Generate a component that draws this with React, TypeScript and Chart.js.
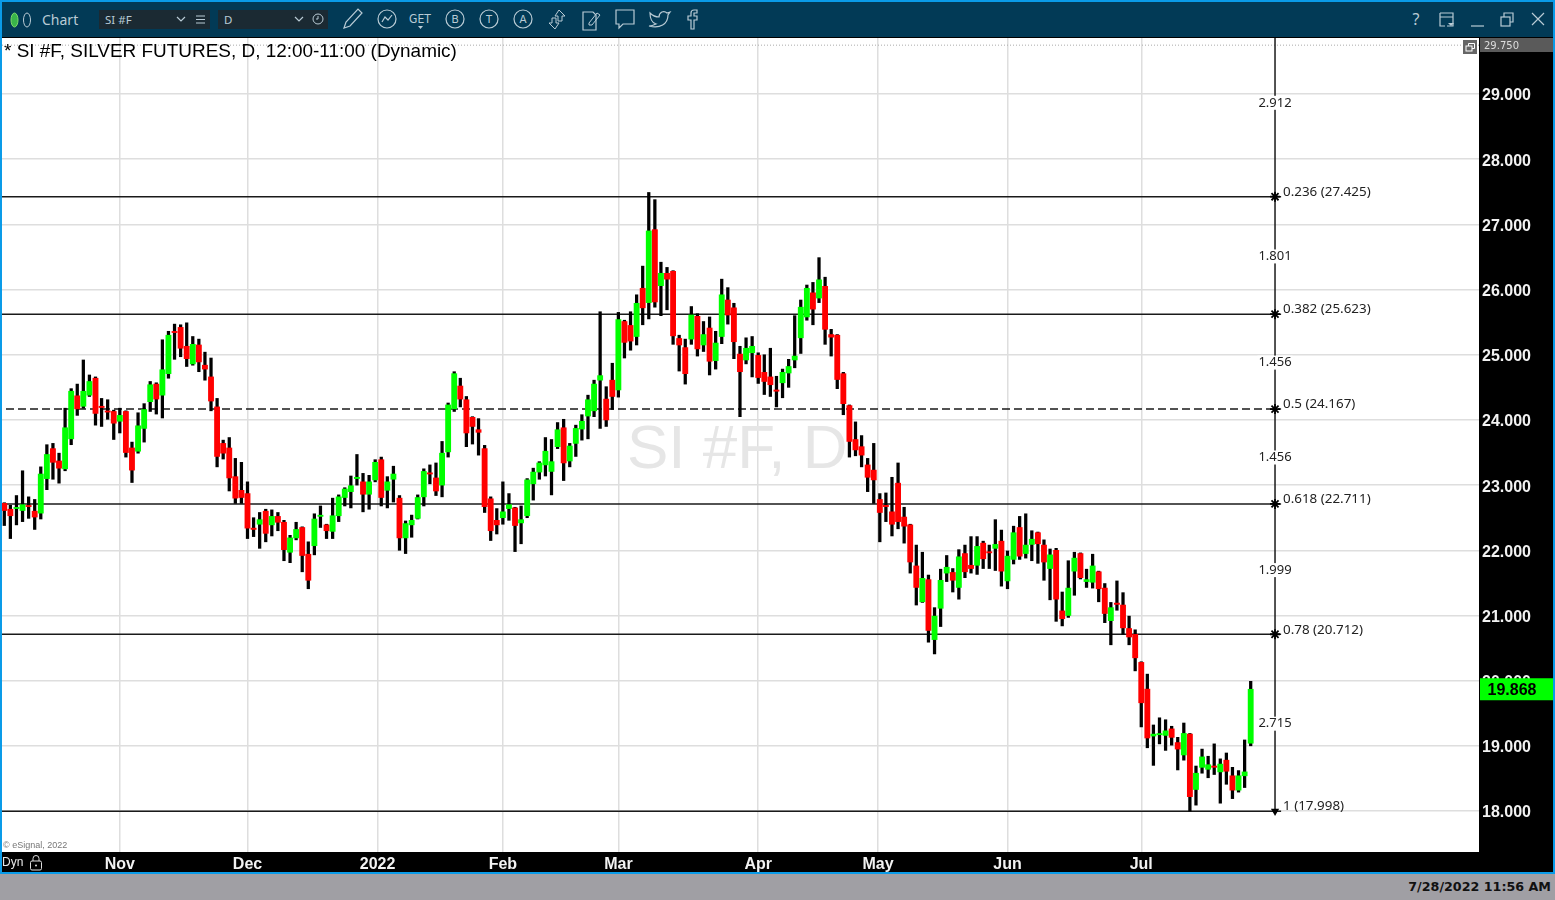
import React, { useEffect, useRef } from "react";
import { Chart, registerables } from "chart.js";

Chart.register(...registerables);

const opens = [
  22.72,22.63,22.64,22.61,22.68,22.60,22.57,23.10,23.56,23.37,
  23.25,23.71,24.37,24.21,24.38,24.64,24.21,24.13,24.13,23.98,
  24.13,23.57,23.52,23.87,24.28,24.55,24.38,24.71,25.35,25.42,
  25.13,24.86,25.15,24.84,24.66,24.20,23.64,23.57,23.13,22.92,
  22.87,22.34,22.40,22.60,22.39,22.52,22.43,21.97,22.19,22.35,
  21.94,22.07,22.52,22.39,22.29,22.53,22.81,22.90,23.10,23.05,
  22.86,23.08,23.39,22.92,23.09,22.80,22.19,22.39,22.49,22.82,
  23.18,23.11,23.00,23.51,24.17,24.52,24.31,24.04,23.85,23.56,
  22.79,22.46,22.50,22.64,22.65,22.42,22.53,23.02,23.20,23.31,
  23.21,23.59,23.88,23.37,23.64,23.86,24.06,24.14,24.61,24.32,
  24.61,24.46,25.51,25.45,25.28,26.02,25.80,26.92,26.06,26.25,
  26.28,25.25,25.11,25.24,25.59,25.15,25.41,24.91,25.28,25.84,
  25.72,25.01,24.92,25.03,24.99,24.73,24.66,24.46,24.57,24.72,
  24.92,25.26,25.58,25.95,25.87,26.05,25.31,25.30,24.71,24.22,
  23.70,23.59,23.31,23.23,22.78,22.69,22.59,23.03,22.51,22.39,
  21.76,21.21,21.55,20.63,21.11,21.65,21.66,21.43,21.95,21.77,
  21.77,22.11,21.97,22.03,22.14,21.53,21.86,22.35,21.95,22.09,
  22.27,22.08,21.72,22.00,21.07,21.00,21.68,21.95,21.52,21.51,
  21.67,21.42,20.92,21.19,21.16,20.80,20.71,20.28,19.87,19.15,
  19.17,19.16,19.26,19.05,18.86,19.18,18.33,18.67,18.64,18.69,
  18.60,18.78,18.54,18.32,18.54,19.04,
];
const closes = [
  22.61,22.53,22.65,22.70,22.67,22.51,23.17,23.47,23.35,23.26,
  23.88,24.44,24.17,24.44,24.59,24.10,24.19,24.12,23.95,24.07,
  23.50,23.23,23.91,24.16,24.54,24.32,24.77,25.30,25.34,25.10,
  24.94,25.16,24.89,24.78,24.29,23.44,23.49,23.11,22.80,22.81,
  22.34,22.32,22.47,22.26,22.52,22.43,22.01,22.19,22.32,21.92,
  21.54,22.48,22.53,22.30,22.53,22.82,22.94,22.99,23.12,22.86,
  23.05,23.35,22.81,23.05,23.17,22.19,22.41,22.46,22.81,23.21,
  23.17,22.91,23.49,24.23,24.71,24.32,23.80,23.90,23.81,22.67,
  22.30,22.39,22.59,22.70,22.38,22.47,23.08,23.20,23.34,23.52,
  23.36,23.85,23.34,23.60,23.87,23.98,24.31,24.55,24.68,24.00,
  24.36,25.54,25.19,25.21,25.79,25.72,26.90,25.81,26.25,26.16,
  25.29,25.15,24.71,25.61,25.09,25.31,24.90,25.18,25.92,25.61,
  25.20,24.74,25.10,25.13,24.65,24.59,24.54,24.44,24.73,24.82,
  24.98,25.73,26.02,25.70,26.15,25.39,25.27,24.62,24.25,23.67,
  23.54,23.46,23.12,23.08,22.58,22.67,22.40,22.44,22.37,21.82,
  21.43,21.57,20.77,20.99,21.54,21.74,21.54,21.90,21.67,21.72,
  22.06,21.87,21.96,22.09,21.68,21.91,22.27,21.91,22.08,22.17,
  22.10,21.82,21.93,21.25,20.95,21.42,21.88,21.58,21.55,21.76,
  21.41,21.03,21.12,21.17,20.81,20.67,20.35,19.66,19.12,19.18,
  19.18,19.23,19.13,18.95,19.19,18.22,18.58,18.83,18.71,18.67,
  18.72,18.61,18.32,18.54,18.60,19.868,
];
const highs = [
  22.73,22.69,22.84,23.22,22.82,22.78,23.28,23.62,23.64,23.49,
  24.18,24.48,24.55,24.92,24.69,24.66,24.33,24.31,24.15,24.18,
  24.14,23.66,24.11,24.25,24.59,24.57,25.23,25.36,25.47,25.46,
  25.49,25.28,25.24,25.04,24.95,24.33,23.69,23.73,23.41,23.35,
  23.05,22.50,22.58,22.63,22.62,22.58,22.46,22.23,22.43,22.36,
  22.13,22.56,22.68,22.40,22.80,22.85,22.96,23.14,23.47,23.18,
  23.15,23.39,23.43,23.13,23.29,22.84,22.45,22.54,22.85,23.25,
  23.31,23.34,23.67,24.26,24.74,24.64,24.36,24.05,24.02,23.61,
  22.82,22.64,23.05,22.87,22.66,22.68,23.10,23.26,23.36,23.73,
  23.70,23.96,24.01,23.64,23.92,24.08,24.38,24.61,25.66,24.51,
  24.87,25.65,25.53,25.66,25.92,26.36,27.49,27.38,26.42,26.34,
  26.29,25.30,25.24,25.74,25.63,25.51,25.58,25.36,26.16,26.03,
  25.79,25.13,25.26,25.28,25.03,25.00,25.10,24.67,24.78,24.93,
  25.60,25.84,26.07,26.11,26.49,26.19,25.39,25.31,24.73,24.23,
  23.97,23.76,23.41,23.64,22.87,22.88,23.12,23.34,22.66,22.40,
  22.08,21.97,21.62,21.12,21.71,21.92,21.72,22.01,22.08,22.21,
  22.21,22.14,22.08,22.47,22.31,21.99,22.37,22.52,22.56,22.30,
  22.28,22.16,22.02,22.03,21.36,21.84,21.97,21.96,21.71,21.94,
  21.68,21.49,21.20,21.53,21.35,20.99,20.78,20.29,20.10,19.32,
  19.43,19.40,19.30,19.13,19.35,19.19,18.69,18.95,18.84,19.03,
  18.80,18.89,18.67,18.62,19.09,19.99,
];
const lows = [
  22.38,22.18,22.39,22.44,22.49,22.32,22.48,22.93,23.09,23.03,
  23.22,23.62,24.07,24.18,24.36,23.92,23.90,24.01,23.70,23.80,
  23.43,23.04,23.49,23.66,24.13,24.09,24.03,24.64,24.93,24.97,
  24.82,24.84,24.74,24.61,24.14,23.28,23.40,22.91,22.72,22.72,
  22.18,22.21,22.03,22.13,22.22,22.30,21.84,21.81,22.16,21.67,
  21.41,21.93,22.35,22.18,22.18,22.44,22.68,22.65,23.00,22.59,
  22.63,23.05,22.68,22.65,22.74,22.00,21.95,22.20,22.48,22.68,
  23.02,22.84,22.82,23.43,24.13,24.20,23.59,23.63,23.46,22.58,
  22.15,22.25,22.40,22.46,21.98,22.10,22.50,22.77,23.09,23.14,
  22.85,23.56,23.07,23.28,23.44,23.69,23.71,24.05,23.87,23.90,
  24.16,24.35,24.95,25.07,25.15,25.46,25.55,25.73,25.60,25.69,
  25.16,24.75,24.55,25.16,24.98,25.05,24.69,24.78,25.17,25.47,
  24.94,24.05,24.86,24.66,24.56,24.39,24.36,24.20,24.34,24.50,
  24.80,25.02,25.53,25.46,25.80,25.16,24.98,24.48,24.08,23.43,
  23.45,23.28,22.90,22.72,22.13,22.44,22.22,22.33,22.11,21.65,
  21.16,21.20,20.59,20.41,20.83,21.52,21.36,21.25,21.58,21.65,
  21.63,21.72,21.72,21.69,21.45,21.41,21.79,21.86,21.88,21.84,
  21.80,21.54,21.24,20.91,20.84,20.97,21.31,21.56,21.43,21.42,
  21.21,20.89,20.55,21.08,20.71,20.55,20.15,19.29,18.97,18.70,
  19.03,18.93,19.01,18.63,18.78,17.998,18.09,18.58,18.51,18.56,
  18.12,18.41,18.19,18.29,18.36,19.00,
];

const monthLabels = ["Nov", "Dec", "2022", "Feb", "Mar", "Apr", "May", "Jun", "Jul"];
const monthBarIndex = [19, 40, 61.4, 82, 101, 124, 143.7, 165, 187];

const fibRatios = ["0.236", "0.382", "0.5", "0.618", "0.78", "1"];
const fibPrices = [27.425, 25.623, 24.167, 22.711, 20.712, 17.998];
const fibTopPrice = 30.337;
const rangeLabels = ["2.912", "1.801", "1.456", "1.456", "1.999", "2.715"];
const crosshairPrice = 29.75;

const TITLE = "* SI #F, SILVER FUTURES, D, 12:00-11:00 (Dynamic)";
const WATERMARK = "SI #F, D";
const COPYRIGHT = "\u00a9 eSignal, 2022";
const STAMP = "7/28/2022 11:56 AM";

const X_MIN = -0.378;
const X_MAX = 242.55;
const FIB_X = 209;
const FIB_END = 210;

const SANS = '"Liberation Sans", Arial, sans-serif';

const overlay = {
  id: "overlay",
  beforeDraw(chart: any) {
    const { ctx, chartArea: a, width, height } = chart;
    ctx.save();
    ctx.fillStyle = "#000";
    ctx.fillRect(0, 0, width, height);
    ctx.fillStyle = "#fff";
    ctx.fillRect(a.left, a.top, a.right - a.left, a.bottom - a.top);
    ctx.restore();
  },
  beforeDatasetsDraw(chart: any) {
    const { ctx } = chart;
    ctx.save();
    ctx.fillStyle = "#e6e6e6";
    ctx.font = `62px ${SANS}`;
    ctx.textBaseline = "alphabetic";
    ctx.fillText(WATERMARK, 625, 430);
    ctx.restore();
  },
  afterDraw(chart: any) {
    const { ctx, scales, chartArea: a, width } = chart;
    const y = scales.y;
    const x = scales.x;
    ctx.save();
    ctx.textBaseline = "middle";
    // fib labels
    ctx.font = '13.4px "Noto Sans", sans-serif';
    ctx.fillStyle = "#222";
    ctx.textAlign = "left";
    const lx = x.getPixelForValue(FIB_X);
    fibRatios.forEach((r, i) => {
      ctx.fillText(`${r} (${fibPrices[i].toFixed(3)})`, lx + 8, y.getPixelForValue(fibPrices[i]) - 4.5);
    });
    // range labels
    ctx.font = '13px "Noto Sans", sans-serif';
    ctx.textAlign = "center";
    const levels = [fibTopPrice, ...fibPrices];
    rangeLabels.forEach((t, i) => {
      const py = y.getPixelForValue((levels[i] + levels[i + 1]) / 2);
      const w = ctx.measureText(t).width;
      ctx.fillStyle = "#fff";
      ctx.fillRect(lx - w / 2 - 1, py - 6, w + 2, 14);
      ctx.fillStyle = "#222";
      ctx.fillText(t, lx, py + 1);
    });
    // title
    ctx.textAlign = "left";
    ctx.fillStyle = "#000";
    ctx.font = `18.95px ${SANS}`;
    ctx.fillText(TITLE, a.left + 2, a.top + 13.5);
    // copyright
    ctx.fillStyle = "#777";
    ctx.font = `9px ${SANS}`;
    ctx.fillText(COPYRIGHT, a.left + 1, a.bottom - 6);
    // right axis head
    ctx.fillStyle = "#5a5a5a";
    ctx.fillRect(a.right + 1, a.top, width - a.right - 1, 14);
    ctx.fillStyle = "#ddd";
    ctx.font = '10px "DejaVu Sans", sans-serif';
    ctx.fillText(crosshairPrice.toFixed(3), a.right + 5, a.top + 8);
    // last price box
    const last = closes[closes.length - 1];
    const py = y.getPixelForValue(last);
    ctx.fillStyle = "#00ff00";
    ctx.fillRect(a.right + 1, py - 11, width - a.right - 1, 22);
    ctx.fillStyle = "#000";
    ctx.textAlign = "center";
    ctx.font = `bold 16px ${SANS}`;
    ctx.fillText(last.toFixed(3), a.right + 33, py + 1);
    // dyn label
    ctx.textAlign = "left";
    ctx.fillStyle = "#e8e8e8";
    ctx.font = `12px ${SANS}`;
    ctx.fillText("Dyn", 0, a.bottom + 11);
    ctx.restore();
  },
};

const I = "#b9cbd5";
const ic = { fill: "none", stroke: I, strokeWidth: 1.2 };

function Toolbar() {
  const circled = (cx: number, t: string) => (
    <g key={t}>
      <circle cx={cx} cy={19} r={9} {...ic} />
      <text x={cx} y={23} textAnchor="middle" fontSize={11} fill={I} fontFamily="Inter, sans-serif">{t}</text>
    </g>
  );
  return (
    <svg width={1555} height={38} viewBox="0 0 1555 38" style={{ position: "absolute", left: -2, top: -2 }}>
      <ellipse cx={14.500} cy={20} rx={3.500} ry={7} fill="#39b54a" stroke="#7fdc6a" />
      <ellipse cx={27} cy={20} rx={3.500} ry={7} fill="none" stroke={I} />
      <text x={42} y={24.500} fontSize={14} fill={I} fontFamily='"Noto Sans", sans-serif'>Chart</text>
      <rect x={99} y={10} width={111} height={19} fill="#1b2a33" />
      <text x={105} y={24} fontSize={11.500} fill={I} fontFamily='"Noto Sans", sans-serif'>SI #F</text>
      <path d="M177 17l4 4 4-4" {...ic} />
      <path d="M196 16h9M196 19.500h9M196 23h9" {...ic} strokeWidth={1} />
      <rect x={218} y={10} width={110} height={19} fill="#1b2a33" />
      <text x={224} y={24} fontSize={11.500} fill={I} fontFamily='"Noto Sans", sans-serif'>D</text>
      <path d="M295 17l4 4 4-4" {...ic} />
      <circle cx={318} cy={19} r={5} {...ic} strokeWidth={1} />
      <path d="M318 16v3h-2" {...ic} strokeWidth={1} />
      <path d="M344 28l2-6 12-13 4 4-12 13z" {...ic} />
      <circle cx={387} cy={19} r={9} {...ic} />
      <path d="M382 22l3-5 3 3 4-5" {...ic} />
      <text x={420} y={23} textAnchor="middle" fontSize={12} fill={I} fontFamily='"DejaVu Sans Condensed","DejaVu Sans", sans-serif'>GET</text>
      <path d="M418 26h5l-2.500 3z" fill={I} />
      {circled(455, "B")}
      {circled(489, "T")}
      {circled(523, "A")}
      <path d="M559 10l6 6h-3v5h-4v-5h-3zM555 29l-6-6h3v-5h4v5h3z" {...ic} strokeWidth={1} />
      <path d="M583 12h10l3 3v15h-13z" {...ic} />
      <path d="M589 23l8-10 3 2-8 10h-3z" {...ic} strokeWidth={1} />
      <path d="M616 10h18v14h-11l-4 4v-4h-3z" {...ic} />
      <path d="M650 13c3 3 6 4 9 4 0-5 5-7 8-4l3-1-2 3c0 9-8 14-19 11 3 0 5-1 7-2-4-1-6-6-6-11z" {...ic} />
      <path d="M697 10h-3c-2 0-3 1-3 3v3h-3v4h3v9h3v-9h3v-4h-3v-3h3z" {...ic} />
      <text x={1416} y={25} textAnchor="middle" fontSize={16} fill={I} fontFamily='"Noto Sans", sans-serif'>?</text>
      <path d="M1440 13h13v13h-6M1440 13v13h5M1440 17h13" {...ic} />
      <path d="M1448 23h6l-3 3z" fill={I} />
      <path d="M1471 26h13" {...ic} />
      <rect x={1501} y={17} width={9} height={9} {...ic} />
      <path d="M1504 17v-4h9v9h-3" {...ic} />
      <path d="M1532 13l12 12M1544 13l-12 12" {...ic} />
    </svg>
  );
}

export default function App() {
  const ref = useRef<HTMLCanvasElement>(null);
  useEffect(() => {
    const idx = opens.map((_, i) => i);
    const fibData = fibPrices.map((p, i) => ({
      type: "line" as const,
      order: 3,
      data: [
        { x: fibRatios[i] === "0.5" ? 0.28 : X_MIN, y: p },
        { x: FIB_X, y: p },
        { x: FIB_END, y: p },
      ],
      borderColor: "#1a1a1a",
      borderWidth: 1.5,
      borderDash: fibRatios[i] === "0.5" ? [8, 4] : [],
      pointRadius: [0, fibRatios[i] === "1" ? 3 : 5, 0],
      pointStyle: fibRatios[i] === "1" ? "triangle" : "star",
      pointRotation: fibRatios[i] === "1" ? 180 : 0,
      pointBorderColor: "#000",
      pointBackgroundColor: "#000",
      pointBorderWidth: 1.8,
    }));
    const chart = new Chart(ref.current!, {
      type: "bar",
      data: {
        datasets: [
          {
            type: "bar",
            order: 1,
            grouped: false,
            barPercentage: 1,
            categoryPercentage: 1,
            maxBarThickness: 5.2,
            minBarLength: 1.2,
            data: idx.map((i) => ({ x: i, y: [opens[i], closes[i]] })),
            backgroundColor: idx.map((i) => (closes[i] >= opens[i] ? "#00ff00" : "#ff0000")),
          },
          {
            type: "bar",
            order: 2,
            grouped: false,
            barPercentage: 1,
            categoryPercentage: 1,
            maxBarThickness: 2.6,
            data: idx.map((i) => ({ x: i, y: [lows[i], highs[i]] })),
            backgroundColor: "#000",
          },
          ...fibData,
          {
            type: "line",
            order: 3,
            data: [
              { x: FIB_X, y: fibPrices[fibPrices.length - 1] },
              { x: FIB_X, y: fibTopPrice },
            ],
            borderColor: "#1a1a1a",
            borderWidth: 1.5,
            pointRadius: 0,
          },
          {
            type: "line",
            order: 4,
            data: [
              { x: X_MIN, y: crosshairPrice },
              { x: X_MAX, y: crosshairPrice },
            ],
            borderColor: "#aaa",
            borderWidth: 1,
            borderDash: [1, 2],
            pointRadius: 0,
          },
        ] as any,
      },
      options: {
        responsive: false,
        animation: false,
        layout: { padding: 0 },
        plugins: { legend: { display: false }, tooltip: { enabled: false } },
        scales: {
          x: {
            type: "linear",
            offset: false,
            min: X_MIN,
            max: X_MAX,
            afterBuildTicks: (s: any) => {
              s.ticks = monthBarIndex.map((value) => ({ value }));
            },
            afterFit: (s: any) => {
              s.height = 20;
              s.paddingLeft = 0;
              s.paddingRight = 0;
              s.paddingTop = 0;
              s.paddingBottom = 0;
            },
            grid: { offset: false, color: "#dedede", lineWidth: 1.5, drawTicks: false },
            border: { display: false },
            ticks: {
              autoSkip: false,
              maxRotation: 0,
              padding: 3,
              color: "#f2f2f2",
              font: { family: SANS, size: 16, weight: "bold" },
              callback: (v: any) => {
                const k = monthBarIndex.indexOf(v);
                return k >= 0 ? monthLabels[k] : "";
              },
            },
          },
          y: {
            type: "linear",
            position: "right",
            min: 17.371,
            max: 29.86,
            afterBuildTicks: (s: any) => {
              const t = [];
              for (let v = 18; v <= 29; v++) t.push({ value: v });
              s.ticks = t;
            },
            afterFit: (s: any) => {
              s.width = 74;
              s.paddingLeft = 0;
              s.paddingRight = 0;
              s.paddingTop = 0;
              s.paddingBottom = 0;
            },
            grid: { color: "#dedede", lineWidth: 1.5, drawTicks: false },
            border: { display: false },
            ticks: {
              padding: 3,
              labelOffset: 2,
              color: "#f2f2f2",
              font: { family: SANS, size: 16, weight: "bold" },
              callback: (v: any) => Number(v).toFixed(3),
            },
          },
        },
      } as any,
      plugins: [overlay],
    });
    return () => chart.destroy();
  }, []);

  return (
    <div style={{ position: "fixed", left: 0, top: 0, width: 1555, height: 900, background: "#0a9be8", overflow: "hidden" }}>
      <div style={{ position: "absolute", left: 2, top: 2, width: 1551, height: 36, background: "#023a56", borderBottom: "1px solid #000", boxSizing: "border-box" }}>
        <Toolbar />
      </div>
      <canvas ref={ref} width={1551} height={834} style={{ position: "absolute", left: 2, top: 38, width: 1551, height: 834, display: "block" }} />
      <div style={{ position: "absolute", left: 0, top: 874, width: 1555, height: 26, background: "#a09fa4" }}>
        <div style={{ position: "absolute", right: 4, top: 5, font: 'bold 12.7px "DejaVu Sans", sans-serif', color: "#111", whiteSpace: "nowrap" }}>{STAMP}</div>
      </div>
      <svg width={14} height={18} style={{ position: "absolute", left: 29, top: 854 }}>
        <rect x={1.500} y={7} width={11} height={9} rx={1.500} fill="none" stroke="#ddd" />
        <path d="M4 7V4.500a3 3 0 0 1 6 0V7" fill="none" stroke="#ddd" />
        <circle cx={7} cy={11.500} r={1} fill="#ddd" />
      </svg>
      <svg width={14} height={14} style={{ position: "absolute", left: 1463, top: 40 }}>
        <rect width={14} height={14} fill="#666" />
        <rect x={3} y={6} width={6} height={5} fill="none" stroke="#fff" />
        <path d="M5.500 6V3.500h6v5H9" fill="none" stroke="#fff" />
      </svg>
    </div>
  );
}
